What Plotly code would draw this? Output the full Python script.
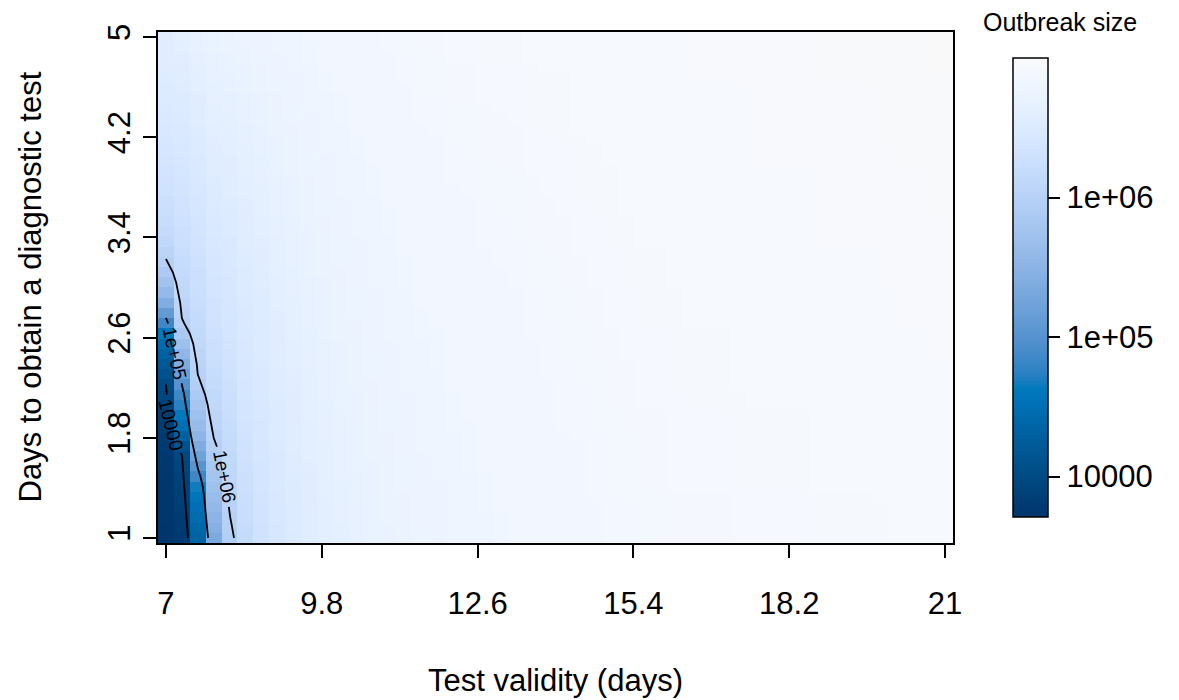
import numpy as np
import plotly.graph_objects as go

# ---------------- data ----------------
test_validity_days = [7.000, 7.286, 7.571, 7.857, 8.143, 8.429, 8.714, 9.000, 9.286, 9.571,
                      9.857, 10.143, 10.429, 10.714, 11.000, 11.286, 11.571, 11.857, 12.143, 12.429,
                      12.714, 13.000, 13.286, 13.571, 13.857, 14.143, 14.429, 14.714, 15.000, 15.286,
                      15.571, 15.857, 16.143, 16.429, 16.714, 17.000, 17.286, 17.571, 17.857, 18.143,
                      18.429, 18.714, 19.000, 19.286, 19.571, 19.857, 20.143, 20.429, 20.714, 21.000]
days_to_test = [1.000, 1.082, 1.163, 1.245, 1.327, 1.408, 1.490, 1.571, 1.653, 1.735,
                1.816, 1.898, 1.980, 2.061, 2.143, 2.224, 2.306, 2.388, 2.469, 2.551,
                2.633, 2.714, 2.796, 2.878, 2.959, 3.041, 3.122, 3.204, 3.286, 3.367,
                3.449, 3.531, 3.612, 3.694, 3.776, 3.857, 3.939, 4.020, 4.102, 4.184,
                4.265, 4.347, 4.429, 4.510, 4.592, 4.673, 4.755, 4.837, 4.918, 5.000]
x_tick_vals = [7, 9.8, 12.6, 15.4, 18.2, 21]
x_tick_text = ["7", "9.8", "12.6", "15.4", "18.2", "21"]
y_tick_vals = [1, 1.8, 2.6, 3.4, 4.2, 5]
y_tick_text = ["1", "1.8", "2.6", "3.4", "4.2", "5"]
contour_levels = [4, 5, 6]                      # log10 of outbreak size
contour_texts = ["10000", "1e+05", "1e+06"]
contour_label_days = [1.903, 2.474, 1.491]      # where each label sits on its line

# 100 * log10(outbreak size); one list per test-validity column, ordered by days_to_test
log_size_cols = [
 [371,371,372,372,373,373,374,375,376,377,378,380,384,389,395,400,409,419,430,442,458,485,513,540,560,575,587,598,605,611,617,621,625,628,631,634,636,639,641,643,645,647,649,651,652,653,655,656,657,658],
 [378,379,381,383,385,387,390,394,398,410,430,450,463,474,485,500,518,537,555,570,585,597,603,607,611,614,617,620,623,626,628,630,632,634,636,638,640,642,644,646,647,649,651,652,654,656,657,659,661,663],
 [435,438,443,449,456,466,484,503,522,538,552,563,572,580,587,594,600,604,608,612,615,617,620,622,624,626,628,630,632,634,636,638,640,641,643,645,646,648,650,651,653,655,656,658,660,661,663,665,667,668],
 [535,543,551,558,565,572,578,584,590,596,601,605,609,612,615,618,621,624,626,628,630,632,634,635,637,638,640,641,643,644,646,647,649,650,652,653,655,656,657,659,660,662,663,665,666,667,668,669,670,671],
 [593,596,599,602,604,607,610,612,615,617,619,621,623,625,627,629,631,632,634,636,637,639,640,641,642,643,645,646,647,648,650,651,652,653,655,656,657,658,660,661,662,663,665,666,668,669,670,671,673,674],
 [618,620,622,623,625,627,628,630,632,633,635,636,638,639,640,641,642,643,644,645,646,647,648,649,650,651,652,653,654,655,656,657,658,659,660,661,662,663,664,665,666,667,668,669,670,671,672,673,675,676],
 [632,633,634,635,636,637,638,639,640,641,642,643,644,645,646,647,648,649,650,650,651,652,653,653,654,655,656,657,658,659,660,661,662,663,664,665,665,666,667,668,669,670,671,672,673,674,675,676,677,678],
 [642,643,644,644,645,646,647,647,648,649,650,651,651,652,653,654,654,655,656,657,658,658,659,660,661,661,662,663,664,664,665,666,667,668,668,669,670,671,671,672,673,674,675,675,676,677,678,678,679,680],
 [649,650,650,651,652,652,653,654,654,655,656,656,657,657,658,659,659,660,661,661,662,663,663,664,665,665,666,667,667,668,669,669,670,671,671,672,673,673,674,674,675,676,676,677,678,678,679,680,680,681],
 [655,656,656,657,657,658,658,659,660,660,661,661,662,662,663,664,664,665,665,666,666,667,668,668,669,669,670,670,671,672,672,673,673,674,674,675,676,676,677,677,678,678,679,680,680,681,681,682,682,683],
 [660,660,661,661,662,662,663,663,664,664,665,665,666,666,667,667,668,668,669,669,670,670,671,671,672,672,673,673,674,674,675,675,676,676,677,677,678,678,679,679,680,680,681,681,682,682,683,683,684,684],
 [664,664,665,665,666,666,667,667,667,668,668,669,669,670,670,670,671,671,672,672,673,673,673,674,674,675,675,676,676,676,677,677,678,678,679,679,679,680,680,681,681,682,682,682,683,683,684,684,685,685],
 [667,667,668,668,669,669,669,670,670,670,671,671,672,672,672,673,673,674,674,674,675,675,676,676,676,677,677,677,678,678,679,679,679,680,680,681,681,681,682,682,683,683,683,684,684,684,685,685,686,686],
 [670,670,671,671,671,672,672,672,673,673,673,674,674,675,675,675,676,676,676,677,677,677,678,678,678,679,679,679,680,680,680,681,681,681,682,682,682,683,683,684,684,684,685,685,685,686,686,686,687,687],
 [672,672,673,673,673,674,674,674,675,675,675,676,676,676,677,677,677,678,678,678,679,679,679,680,680,680,680,681,681,681,682,682,682,683,683,683,684,684,684,685,685,685,686,686,686,687,687,687,688,688],
 [674,674,675,675,675,676,676,676,676,677,677,677,678,678,678,679,679,679,680,680,680,680,681,681,681,682,682,682,683,683,683,683,684,684,684,685,685,685,686,686,686,687,687,687,687,688,688,688,689,689],
 [676,676,677,677,677,677,678,678,678,679,679,679,679,680,680,680,681,681,681,681,682,682,682,683,683,683,683,684,684,684,685,685,685,685,686,686,686,687,687,687,687,688,688,688,689,689,689,689,690,690],
 [677,677,678,678,678,678,679,679,679,679,680,680,680,680,681,681,681,682,682,682,682,683,683,683,683,684,684,684,684,685,685,685,685,686,686,686,687,687,687,687,688,688,688,688,689,689,689,689,690,690],
 [679,679,679,680,680,680,680,681,681,681,681,682,682,682,682,683,683,683,683,684,684,684,684,685,685,685,685,686,686,686,686,687,687,687,687,688,688,688,688,689,689,689,689,690,690,690,690,691,691,691],
 [680,680,680,681,681,681,681,682,682,682,682,682,683,683,683,683,684,684,684,684,684,685,685,685,685,686,686,686,686,687,687,687,687,687,688,688,688,688,689,689,689,689,689,690,690,690,690,691,691,691],
 [681,681,681,682,682,682,682,683,683,683,683,683,684,684,684,684,685,685,685,685,685,686,686,686,686,687,687,687,687,688,688,688,688,688,689,689,689,689,690,690,690,690,690,691,691,691,691,692,692,692],
 [682,682,682,683,683,683,683,683,684,684,684,684,684,685,685,685,685,685,686,686,686,686,686,687,687,687,687,688,688,688,688,688,689,689,689,689,689,690,690,690,690,690,691,691,691,691,691,692,692,692],
 [683,683,683,684,684,684,684,684,684,685,685,685,685,685,686,686,686,686,686,686,687,687,687,687,687,688,688,688,688,688,689,689,689,689,689,689,690,690,690,690,690,691,691,691,691,691,691,692,692,692],
 [684,684,684,685,685,685,685,685,685,686,686,686,686,686,687,687,687,687,687,687,688,688,688,688,688,689,689,689,689,689,690,690,690,690,690,690,691,691,691,691,691,692,692,692,692,692,692,693,693,693],
 [685,685,685,685,686,686,686,686,686,686,687,687,687,687,687,687,688,688,688,688,688,688,689,689,689,689,689,689,690,690,690,690,690,690,691,691,691,691,691,691,692,692,692,692,692,692,693,693,693,693],
 [686,686,686,686,687,687,687,687,687,687,687,688,688,688,688,688,688,688,689,689,689,689,689,689,689,690,690,690,690,690,690,690,691,691,691,691,691,691,691,692,692,692,692,692,692,692,693,693,693,693],
 [686,686,686,686,687,687,687,687,687,687,688,688,688,688,688,688,689,689,689,689,689,689,690,690,690,690,690,690,691,691,691,691,691,691,692,692,692,692,692,692,693,693,693,693,693,693,694,694,694,694],
 [687,687,687,687,688,688,688,688,688,688,688,689,689,689,689,689,689,689,690,690,690,690,690,690,690,691,691,691,691,691,691,691,692,692,692,692,692,692,692,693,693,693,693,693,693,693,694,694,694,694],
 [688,688,688,688,688,689,689,689,689,689,689,689,689,690,690,690,690,690,690,690,690,691,691,691,691,691,691,691,691,692,692,692,692,692,692,692,692,693,693,693,693,693,693,693,693,694,694,694,694,694],
 [688,688,688,688,689,689,689,689,689,689,689,690,690,690,690,690,690,690,691,691,691,691,691,691,691,692,692,692,692,692,692,692,693,693,693,693,693,693,693,694,694,694,694,694,694,694,695,695,695,695],
 [689,689,689,689,689,690,690,690,690,690,690,690,690,691,691,691,691,691,691,691,691,692,692,692,692,692,692,692,692,693,693,693,693,693,693,693,693,694,694,694,694,694,694,694,694,695,695,695,695,695],
 [689,689,689,689,689,690,690,690,690,690,690,690,690,691,691,691,691,691,691,691,691,692,692,692,692,692,692,692,692,693,693,693,693,693,693,693,693,694,694,694,694,694,694,694,694,695,695,695,695,695],
 [690,690,690,690,690,691,691,691,691,691,691,691,691,691,691,692,692,692,692,692,692,692,692,692,692,693,693,693,693,693,693,693,693,693,693,694,694,694,694,694,694,694,694,694,694,695,695,695,695,695],
 [690,690,690,690,690,691,691,691,691,691,691,691,691,692,692,692,692,692,692,692,692,693,693,693,693,693,693,693,693,694,694,694,694,694,694,694,694,695,695,695,695,695,695,695,695,696,696,696,696,696],
 [690,690,690,690,690,691,691,691,691,691,691,691,691,692,692,692,692,692,692,692,692,693,693,693,693,693,693,693,693,694,694,694,694,694,694,694,694,695,695,695,695,695,695,695,695,696,696,696,696,696],
 [690,690,690,690,690,691,691,691,691,691,691,691,691,692,692,692,692,692,692,692,692,693,693,693,693,693,693,693,693,694,694,694,694,694,694,694,694,695,695,695,695,695,695,695,695,696,696,696,696,696],
 [691,691,691,691,691,692,692,692,692,692,692,692,692,692,692,693,693,693,693,693,693,693,693,693,693,694,694,694,694,694,694,694,694,694,694,695,695,695,695,695,695,695,695,695,695,696,696,696,696,696],
 [691,691,691,691,691,692,692,692,692,692,692,692,692,693,693,693,693,693,693,693,693,694,694,694,694,694,694,694,694,695,695,695,695,695,695,695,695,696,696,696,696,696,696,696,696,697,697,697,697,697],
 [691,691,691,691,691,692,692,692,692,692,692,692,692,693,693,693,693,693,693,693,693,694,694,694,694,694,694,694,694,695,695,695,695,695,695,695,695,696,696,696,696,696,696,696,696,697,697,697,697,697],
 [691,691,691,691,691,692,692,692,692,692,692,692,692,693,693,693,693,693,693,693,693,694,694,694,694,694,694,694,694,695,695,695,695,695,695,695,695,696,696,696,696,696,696,696,696,697,697,697,697,697],
 [691,691,691,691,691,692,692,692,692,692,692,692,692,693,693,693,693,693,693,693,693,694,694,694,694,694,694,694,694,695,695,695,695,695,695,695,695,696,696,696,696,696,696,696,696,697,697,697,697,697],
 [692,692,692,692,692,693,693,693,693,693,693,693,693,694,694,694,694,694,694,694,694,695,695,695,695,695,695,695,695,696,696,696,696,696,696,696,696,697,697,697,697,697,697,697,697,698,698,698,698,698],
 [692,692,692,692,692,693,693,693,693,693,693,693,693,694,694,694,694,694,694,694,694,695,695,695,695,695,695,695,695,696,696,696,696,696,696,696,696,697,697,697,697,697,697,697,697,698,698,698,698,698],
 [692,692,692,692,692,693,693,693,693,693,693,693,693,694,694,694,694,694,694,694,694,695,695,695,695,695,695,695,695,696,696,696,696,696,696,696,696,697,697,697,697,697,697,697,697,698,698,698,698,698],
 [692,692,692,692,692,693,693,693,693,693,693,693,693,694,694,694,694,694,694,694,694,695,695,695,695,695,695,695,695,696,696,696,696,696,696,696,696,697,697,697,697,697,697,697,697,698,698,698,698,698],
 [692,692,692,692,693,693,693,693,693,693,693,694,694,694,694,694,694,694,695,695,695,695,695,695,695,696,696,696,696,696,696,696,697,697,697,697,697,697,697,698,698,698,698,698,698,698,699,699,699,699],
 [693,693,693,693,693,694,694,694,694,694,694,694,694,695,695,695,695,695,695,695,695,696,696,696,696,696,696,696,696,697,697,697,697,697,697,697,697,698,698,698,698,698,698,698,698,699,699,699,699,699],
 [693,693,693,693,693,694,694,694,694,694,694,694,694,695,695,695,695,695,695,695,695,696,696,696,696,696,696,696,696,697,697,697,697,697,697,697,697,698,698,698,698,698,698,698,698,699,699,699,699,699],
 [693,693,693,693,694,694,694,694,694,694,694,695,695,695,695,695,695,695,696,696,696,696,696,696,696,697,697,697,697,697,697,697,698,698,698,698,698,698,698,699,699,699,699,699,699,699,700,700,700,700],
 [693,693,693,693,694,694,694,694,694,694,694,695,695,695,695,695,695,695,696,696,696,696,696,696,696,697,697,697,697,697,697,697,698,698,698,698,698,698,698,699,699,699,699,699,699,699,700,700,700,700],
]

# ---------------- layout geometry ----------------
W_FIG, H_FIG = 1179, 700
M_L, M_R, M_T, M_B = 158, 226, 32, 157
PW, PH = W_FIG - M_L - M_R, H_FIG - M_T - M_B
FONT = "Liberation Sans, Arial, Helvetica, sans-serif"

X = np.array(test_validity_days, dtype=float)
Y = np.array(days_to_test, dtype=float)
Z = np.array(log_size_cols, dtype=float).T / 100.0   # rows = days, cols = validity

dx = (X[-1] - X[0]) / (len(X) - 1)
dy = (Y[-1] - Y[0]) / (len(Y) - 1)
xr = [X[0] - dx / 2, X[-1] + dx / 2]
yr = [Y[0] - dy / 2, Y[-1] + dy / 2]
sx = PW / (xr[1] - xr[0])
sy = PH / (yr[1] - yr[0])


# ---------------- colour palette: HCL "Blues 3" ----------------
def hcl_hex(h, c, l):
    Xn, Yn, Zn = 95.047, 100.0, 108.883
    hr = np.radians(h)
    u, v = c * np.cos(hr), c * np.sin(hr)
    Yv = Yn * ((l + 16) / 116) ** 3 if l > 8 else Yn * l / 903.3
    den = Xn + 15 * Yn + 3 * Zn
    un, vn = 4 * Xn / den, 9 * Yn / den
    up, vp = u / (13 * l) + un, v / (13 * l) + vn
    Xv = 9 * Yv * up / (4 * vp)
    Zv = Yv * (12 - 3 * up - 20 * vp) / (4 * vp)
    Xv, Yv, Zv = Xv / 100, Yv / 100, Zv / 100
    r = 3.240479 * Xv - 1.537150 * Yv - 0.498535 * Zv
    g = -0.969256 * Xv + 1.875992 * Yv + 0.041556 * Zv
    b = 0.055648 * Xv - 0.204043 * Yv + 1.057311 * Zv

    def gam(t):
        t = min(max(t, 0.0), 1.0)
        return 12.92 * t if t <= 0.0031308 else 1.055 * t ** (1 / 2.4) - 0.055
    return "#%02x%02x%02x" % tuple(int(round(255 * gam(t))) for t in (r, g, b))


def blues3(i):
    h, c1, c2, l1, l2, p1, p2, cmax = 245.0, 50.0, 0.0, 20.0, 98.0, 0.8, 1.4, 75.0
    jj = 1.0 / (1.0 + abs(cmax - c1) / abs(cmax - c2))
    if i <= jj:
        c = c2 - (c2 - cmax) * (i / jj) ** p1
    else:
        c = cmax - (cmax - c1) * ((i - jj) / (1 - jj)) ** p1
    l = l2 - (l2 - l1) * i ** p2
    return hcl_hex(h, c, l)


colorscale = [[float(t), blues3(1 - float(t))] for t in np.linspace(0, 1, 101)]

fig = go.Figure()
fig.add_trace(go.Heatmap(
    x=X, y=Y, z=Z, zsmooth=False, colorscale=colorscale,
    zmin=float(Z.min()), zmax=float(Z.max()), hoverinfo="skip",
    colorbar=dict(
        x=(1013 - M_L) / PW, xanchor="left", xpad=0,
        y=0.5, yanchor="middle", ypad=0,
        len=459, lenmode="pixels", thickness=35, thicknessmode="pixels",
        outlinewidth=1.5, outlinecolor="black",
        tickmode="array", tickvals=contour_levels, ticktext=contour_texts,
        ticks="outside", ticklen=12, tickwidth=1.5, tickcolor="black",
        tickfont=dict(size=31, family=FONT, color="black"),
    ),
))


# ---------------- contour lines (edge crossings of the grid) ----------------
def crossings(level):
    pts = []
    ny, nx = Z.shape
    for j in range(ny):
        for k in range(nx - 1):
            a, b = Z[j, k], Z[j, k + 1]
            if (a < level) != (b < level):
                f = (level - a) / (b - a)
                pts.append((X[k] + f * (X[k + 1] - X[k]), Y[j]))
    for k in range(nx):
        for j in range(ny - 1):
            a, b = Z[j, k], Z[j + 1, k]
            if (a < level) != (b < level):
                f = (level - a) / (b - a)
                pts.append((X[k], Y[j] + f * (Y[j + 1] - Y[j])))
    pts = sorted(set((round(p[0], 6), round(p[1], 6)) for p in pts),
                 key=lambda p: (-p[1], p[0]))
    return pts


CW = {"0": 0.556, "1": 0.556, "5": 0.556, "6": 0.556, "e": 0.556, "+": 0.584}
LAB_FS = 19


def split_for_label(pts, y_lab, text):
    P = np.array([((x - xr[0]) * sx, (yr[1] - y) * sy) for x, y in pts])
    s = np.concatenate([[0.0], np.cumsum(np.hypot(np.diff(P[:, 0]), np.diff(P[:, 1])))])
    ys = np.array([p[1] for p in pts])
    sc = float(np.interp(-y_lab, -ys, s))
    half = sum(CW.get(ch, 0.556) for ch in text) * LAB_FS / 2 + 4

    def at(sv):
        return np.array([np.interp(sv, s, P[:, 0]), np.interp(sv, s, P[:, 1])])
    a, b = at(sc - half), at(sc + half)
    seg1 = [p for p, sv in zip(P, s) if sv < sc - half] + [a]
    seg2 = [b] + [p for p, sv in zip(P, s) if sv > sc + half]
    ang = float(np.degrees(np.arctan2(b[1] - a[1], b[0] - a[0])))
    return seg1, seg2, ang, at(sc)


def to_data(p):
    return p[0] / sx + xr[0], yr[1] - p[1] / sy


annotations = []
for lev, txt, ylab in zip(contour_levels, contour_texts, contour_label_days):
    pts = crossings(lev)
    seg1, seg2, ang, c = split_for_label(pts, ylab, txt)
    lx, ly = [], []
    for seg in (seg1, seg2):
        for p in seg:
            xd, yd = to_data(p)
            lx.append(xd)
            ly.append(yd)
        lx.append(None)
        ly.append(None)
    fig.add_trace(go.Scatter(x=lx, y=ly, mode="lines", line=dict(color="black", width=1.8),
                             hoverinfo="skip", showlegend=False))
    cx, cy = to_data(c)
    annotations.append(dict(x=cx, y=cy, xref="x", yref="y", text=txt, showarrow=False,
                            textangle=ang, xanchor="center", yanchor="middle",
                            font=dict(size=LAB_FS, family=FONT, color="black")))

# axis titles and legend title
annotations.append(dict(x=0.5, y=(PH + M_T - 680) / PH, xref="paper", yref="paper",
                        text="Test validity (days)", showarrow=False,
                        xanchor="center", yanchor="middle",
                        font=dict(size=31, family=FONT, color="black")))
annotations.append(dict(x=(30 - M_L) / PW, y=0.5, xref="paper", yref="paper",
                        text="Days to obtain a diagnostic test", showarrow=False, textangle=-90,
                        xanchor="center", yanchor="middle",
                        font=dict(size=31, family=FONT, color="black")))
annotations.append(dict(x=(1060 - M_L) / PW, y=(PH + M_T - 22) / PH, xref="paper", yref="paper",
                        text="Outbreak size", showarrow=False,
                        xanchor="center", yanchor="middle",
                        font=dict(size=25, family=FONT, color="black")))

axis_common = dict(showgrid=False, zeroline=False, showline=True, linecolor="black",
                   linewidth=1.5, mirror=True, ticks="outside", ticklen=13, tickwidth=1.5,
                   tickcolor="black", tickfont=dict(size=31, family=FONT, color="black"),
                   tickmode="array")

fig.update_layout(
    template="none",
    width=W_FIG, height=H_FIG,
    margin=dict(l=M_L, r=M_R, t=M_T, b=M_B, pad=0),
    paper_bgcolor="white", plot_bgcolor="white",
    showlegend=False,
    xaxis=dict(range=xr, tickvals=x_tick_vals, ticktext=x_tick_text,
               ticklabelstandoff=19, **axis_common),
    yaxis=dict(range=yr, tickvals=y_tick_vals, ticktext=y_tick_text, tickangle=-90,
               ticklabelstandoff=1, **axis_common),
    annotations=annotations,
    font=dict(family=FONT, color="black"),
)

fig.write_html("out.html")
